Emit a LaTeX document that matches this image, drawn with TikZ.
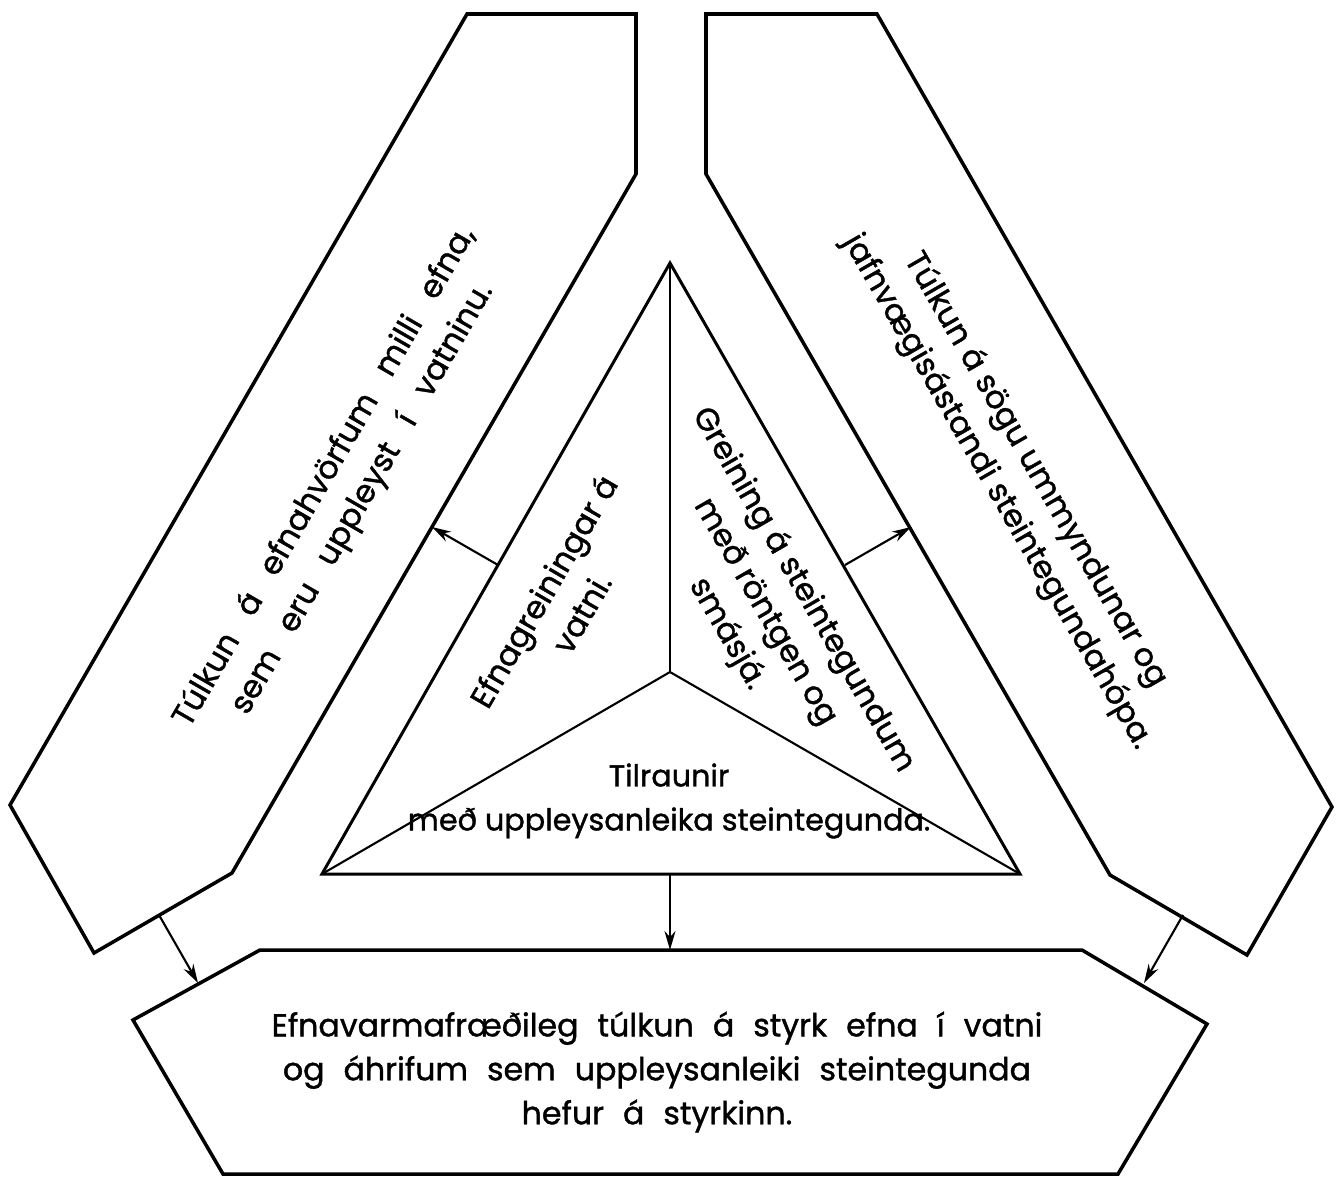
\documentclass[tikz,border=0pt]{standalone}
\usepackage{fontspec}
\setmainfont{Poppins}[FakeBold=1.2]
\usepackage{tikz}
\usetikzlibrary{arrows.meta,calc}

\newcommand\widespace{\spaceskip 0.8em\relax}
\newcommand\botspace{\spaceskip 0.6em\relax}

\tikzset{
	box/.style={line width=1pt,line join=miter},
	tri/.style={line width=0.85pt},
	arr/.style={line width=0.6pt,-{Stealth[length=1.9mm,width=1.1mm]}},
	spoke/.style={line width=0.6pt},
	txt/.style={font=\fontsize{9}{12.5}\selectfont,align=center,inner sep=0pt},
	smalltxt/.style={txt,font=\fontsize{8.6}{12.5}\selectfont},
	widetxt/.style={txt,font={\fontsize{9}{12.5}\selectfont\widespace}},
	bottxt/.style={txt,font={\fontsize{9}{12.5}\selectfont\botspace}}
}

\begin{document}
\begin{tikzpicture}[x=0.01cm,y=-0.01cm]
	\useasboundingbox (0,0) rectangle (1344,1178);

	% outer boxes
	\draw[box] (467,14) -- (636,14) -- (636,174) -- (232,873) -- (94,953) -- (10,805) -- cycle;
	\draw[box] (706,14) -- (877,14) -- (1332,807) -- (1247,955) -- (1110,875) -- (706,174) -- cycle;
	\draw[box] (260,950) -- (1082,950) -- (1207,1024) -- (1118,1174) -- (223,1174) -- (133,1020) -- cycle;

	% triangle
	\coordinate (top) at (670,263);
	\coordinate (bl) at (322,874);
	\coordinate (br) at (1020,874);
	\coordinate (mid) at (670,672);
	\draw[tri] (top) -- (bl) -- (br) -- cycle;
	\draw[spoke] (mid) -- (top);
	\draw[spoke] (mid) -- (bl);
	\draw[spoke] (mid) -- (br);

	% texts
	\node[widetxt,rotate=60] (lt) at (344,488) {Túlkun á efnahvörfum milli efna,\\sem eru uppleyst í vatninu.};
	\node[txt,rotate=-60] (rt) at (1016,481) {Túlkun á sögu ummyndunar og\\jafnvægisástandi steintegundahópa.};
	\node[txt,rotate=60] (el) at (562,602) {Efnagreiningar á\\vatni.};
	\node[txt,rotate=-60] (er) at (765,612) {Greining á steintegundum\\með röntgen og\\smásjá.};
	\node[smalltxt] (eb) at (669,801) {Tilraunir\\með uppleysanleika steintegunda.};
	\node[bottxt] (bt) at (657,1072) {Efnavarmafræðileg túlkun á styrk efna í vatni\\og áhrifum sem uppleysanleiki steintegunda\\hefur á styrkinn.};

	% arrows
	\coordinate (a1) at (498,565);
	\coordinate (b1) at (432,527);
	\coordinate (a2) at (845,565);
	\coordinate (b2) at (911,527);
	\coordinate (a3) at (670,874);
	\coordinate (b3) at (670,950);
	\coordinate (a4) at (159,915);
	\coordinate (b4) at (198,983);
	\coordinate (a5) at (1183,915);
	\coordinate (b5) at (1144,983);
	\draw[arr] (a1) -- (b1);
	\draw[arr] (a2) -- (b2);
	\draw[arr] (a3) -- (b3);
	\draw[arr] (a4) -- (b4);
	\draw[arr] (a5) -- (b5);
\end{tikzpicture}
\end{document}
